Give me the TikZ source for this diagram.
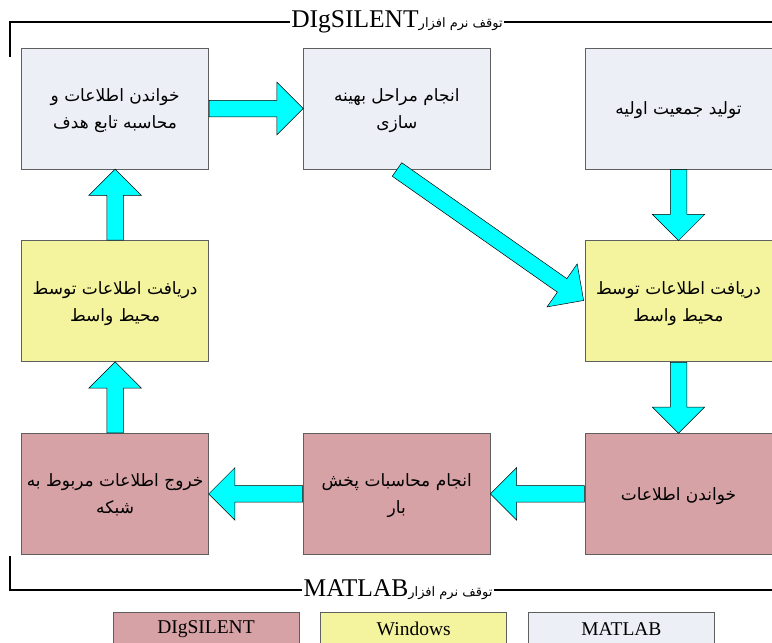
\documentclass[tikz,border=0pt]{standalone}
\usepackage{fontspec}
\setmainfont{Liberation Serif}
\newfontfamily\farsi[Script=Arabic]{DejaVu Sans}
\TeXXeTstate=1
\usetikzlibrary{positioning,shapes.arrows}
\newcommand{\fa}[1]{{\farsi\beginR #1\endR}}
\newcommand{\lat}[1]{\beginL{\rmfamily\fontsize{25.5}{25.5}\selectfont #1}\endL}
\definecolor{matlabfill}{RGB}{237,239,247}
\definecolor{winfill}{RGB}{245,244,158}
\definecolor{digfill}{RGB}{214,162,166}
\definecolor{boxline}{RGB}{95,95,95}
\definecolor{flowfill}{RGB}{0,255,255}
\begin{document}
\begin{tikzpicture}[x=1pt, y=1pt, node distance={71pt and 94pt},
    box/.style = {draw=boxline, line width=0.7pt, minimum width=187pt, minimum height=121pt, inner sep=0pt, align=center, text depth=-4pt, font=\fontsize{17}{27}\selectfont},
    matlab/.style = {box, fill=matlabfill},
    windows/.style = {box, fill=winfill},
    digsilent/.style = {box, fill=digfill},
    flow/.style = {single arrow, draw=black, line width=0.5pt, fill=flowfill, inner xsep=0pt, inner ysep=8pt, minimum width=0pt, single arrow head extend=18pt, single arrow head indent=0pt, pos=0, anchor=tail, sloped, allow upside down},
    title/.style = {fill=white, inner xsep=1pt, inner ysep=0pt, font=\fontsize{13}{13}\selectfont},
    frame/.style = {line width=1.3pt},
    legend/.style = {draw=boxline, line width=0.7pt, minimum width=186pt, minimum height=34pt, inner sep=0pt, font=\fontsize{19.5}{19.5}\selectfont}]
\useasboundingbox (0,0) rectangle (772,-643);

\node[matlab] (1) at (678.5,-108.5) {\fa{تولید جمعیت اولیه}};
\node[windows] (2) [below=of 1] {\fa{دریافت اطلاعات توسط}\\ \fa{محیط واسط}};
\node[digsilent] (3) [below=of 2] {\fa{خواندن اطلاعات}};
\node[digsilent] (4) [left=of 3] {\fa{انجام محاسبات پخش}\\ \fa{بار}};
\node[digsilent] (5) [left=of 4] {\fa{خروج اطلاعات مربوط به}\\ \fa{شبکه}};
\node[windows] (6) [above=of 5] {\fa{دریافت اطلاعات توسط}\\ \fa{محیط واسط}};
\node[matlab] (7) [above=of 6] {\fa{خواندن اطلاعات و}\\ \fa{محاسبه تابع هدف}};
\node[matlab] (8) [right=of 7] {\fa{انجام مراحل بهینه}\\ \fa{سازی}};

\path (1) -- node[flow, minimum height=71pt]{} (2);
\path (2) -- node[flow, minimum height=71pt]{} (3);
\path (3) -- node[flow, minimum height=94pt]{} (4);
\path (4) -- node[flow, minimum height=94pt]{} (5);
\path (5) -- node[flow, minimum height=71pt]{} (6);
\path (6) -- node[flow, minimum height=71pt]{} (7);
\path (7) -- node[flow, minimum height=94pt]{} (8);
\path (8.south) -- node[flow, minimum height=228pt]{} (2.west);

% frames
\coordinate (f1) at (10,-57);
\coordinate (f2) at (772,-22);
\coordinate (f3) at (10,-556);
\coordinate (f4) at (772,-590);
\node[title] (t1) at (397,-22) {\fa{توقف نرم افزار\lat{DIgSILENT}}};
\node[title] (t2) at (398,-590) {\fa{توقف نرم افزار\lat{MATLAB}}};
\draw[frame] (f1) |- (t1.west);
\draw[frame] (t1.east) -- (f2);
\draw[frame] (f3) |- (t2.west);
\draw[frame] (t2.east) -- (f4);

% legend
\node[legend, fill=digfill] (9) at (206,-629) {DIgSILENT};
\node[legend, fill=winfill] (10) [right=21pt of 9] {Windows};
\node[legend, fill=matlabfill] (11) [right=21pt of 10] {MATLAB};
\end{tikzpicture}
\end{document}
